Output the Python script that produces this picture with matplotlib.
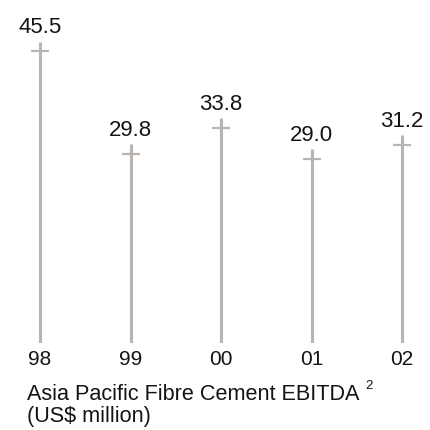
import numpy as np
import matplotlib
matplotlib.use('Agg')
import matplotlib.pyplot as plt

plt.rcParams['font.family'] = ['Liberation Sans', 'DejaVu Sans']

# EBITDA by financial year (US$ million)
years = ['98', '99', '00', '01', '02']
ebitda = [45.5, 29.8, 33.8, 29.0, 31.2]

stem_col = '#bab4b0'
text_col = '#161314'

fig = plt.figure(figsize=(4.30, 4.31), dpi=100)
ax = fig.add_axes([0, 87 / 431, 1, 344 / 431])

x = np.arange(len(years))
base = 0.92   # stems stop just above zero
over = 1.5    # stem continues a little past the crossbar

ax.vlines(x, base, np.array(ebitda) + over, color=stem_col, lw=2.2)
ax.plot(x, ebitda, ls='none', marker='_', ms=12.5, mew=1.6, color=stem_col)

for xi, v in zip(x, ebitda):
    ax.annotate(f'{v:.1f}', (xi, v + over), xytext=(0, 6.5),
                textcoords='offset points', ha='center', va='baseline',
                fontsize=16, color=text_col)

ax.set_xlim(-40 / 90.5, 4 + 28 / 90.5)
ax.set_ylim(base, 53.5)
ax.set_xticks(x)
ax.set_xticklabels(years, fontsize=15, color=text_col)
ax.tick_params(axis='x', length=0, pad=4)
ax.set_yticks([])
for s in ax.spines.values():
    s.set_visible(False)

title = fig.text(27 / 430, 1 - 400 / 431, 'Asia Pacific Fibre Cement EBITDA',
                 fontsize=15.6, color=text_col, va='baseline')
# footnote marker just after the title
plt.annotate('2', xy=(1, 0), xycoords=title, xytext=(4.5, 9),
             textcoords='offset points', fontsize=9.5, color=text_col,
             va='bottom', annotation_clip=False)
fig.text(27 / 430, 1 - 422 / 431, '(US$ million)',
         fontsize=15.6, color=text_col, va='baseline')

fig.savefig('out.png', dpi=100)
